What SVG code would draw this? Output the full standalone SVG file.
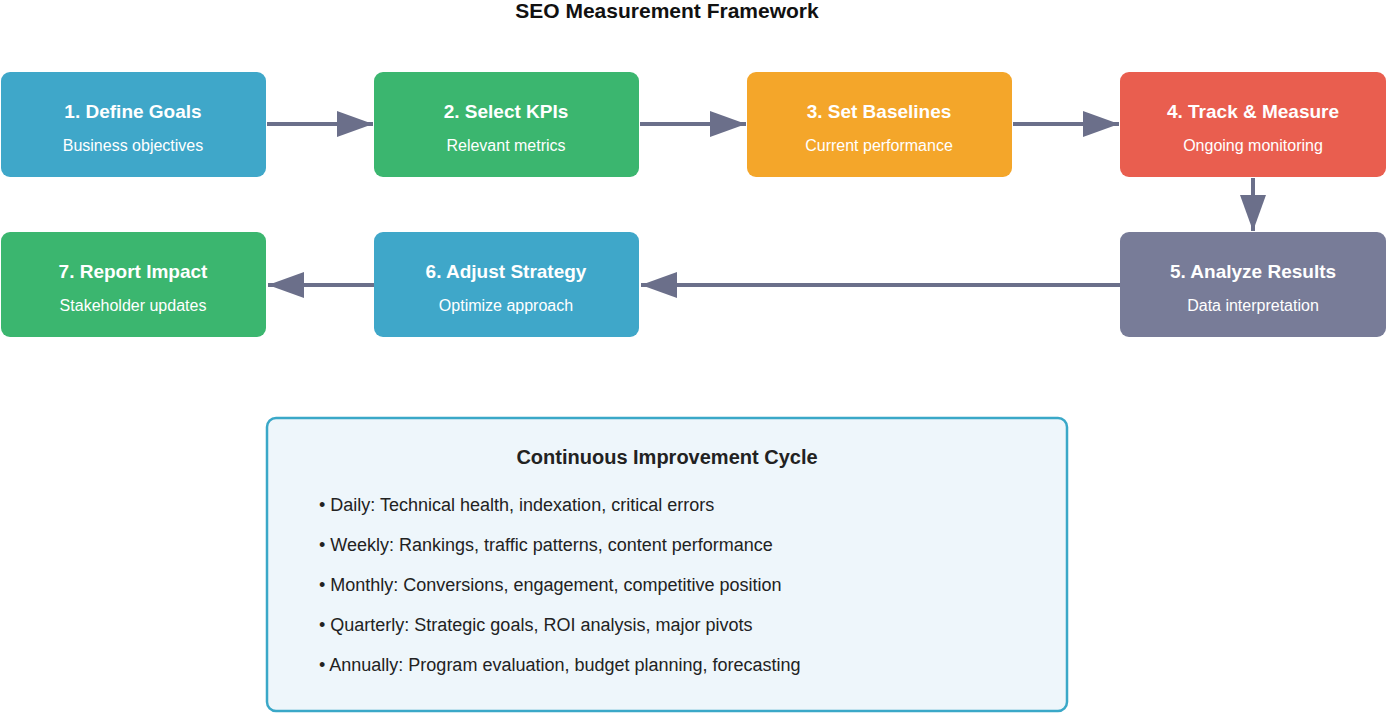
<svg xmlns="http://www.w3.org/2000/svg" width="1387" height="713" viewBox="0 0 1387 713">
<defs>
<marker id="ah" markerWidth="9" markerHeight="6.5" refX="9" refY="3.25" orient="auto" markerUnits="strokeWidth"><path d="M0,0 L9,3.25 L0,6.5 Z" fill="#6b6f8a"/></marker>
<style>
text{font-family:"Liberation Sans",Arial,sans-serif;}
.t{font-size:19px;font-weight:bold;fill:#fff;text-anchor:middle;}
.s{font-size:16px;fill:#fff;text-anchor:middle;}
.c{stroke:#6b6f8a;stroke-width:4;fill:none;marker-end:url(#ah);}
.b{font-size:18px;fill:#222;}
</style>
</defs>
<rect width="1387" height="713" fill="#fff"/>
<text x="667" y="18" font-size="21" font-weight="bold" fill="#111" text-anchor="middle">SEO Measurement Framework</text>
<g id="connectors">
<line class="c" x1="267" y1="124" x2="373" y2="124"/>
<line class="c" x1="640" y1="124" x2="746" y2="124"/>
<line class="c" x1="1013" y1="124" x2="1119" y2="124"/>
<line class="c" x1="1253" y1="178" x2="1253" y2="231"/>
<line class="c" x1="1120" y1="285" x2="641" y2="285"/>
<line class="c" x1="374" y1="285" x2="268" y2="285"/>
</g>
<g id="n1"><rect x="1" y="72" width="265" height="105" rx="9" fill="#3fa7c9"/><text class="t" x="133" y="118">1. Define Goals</text><text class="s" x="133" y="151">Business objectives</text></g>
<g id="n2"><rect x="374" y="72" width="265" height="105" rx="9" fill="#3bb66f"/><text class="t" x="506" y="118">2. Select KPIs</text><text class="s" x="506" y="151">Relevant metrics</text></g>
<g id="n3"><rect x="747" y="72" width="265" height="105" rx="9" fill="#f4a62a"/><text class="t" x="879" y="118">3. Set Baselines</text><text class="s" x="879" y="151">Current performance</text></g>
<g id="n4"><rect x="1120" y="72" width="266" height="105" rx="9" fill="#e95e4f"/><text class="t" x="1253" y="118">4. Track &amp; Measure</text><text class="s" x="1253" y="151">Ongoing monitoring</text></g>
<g id="n5"><rect x="1120" y="232" width="266" height="105" rx="9" fill="#787c98"/><text class="t" x="1253" y="278">5. Analyze Results</text><text class="s" x="1253" y="311">Data interpretation</text></g>
<g id="n6"><rect x="374" y="232" width="265" height="105" rx="9" fill="#3fa7c9"/><text class="t" x="506" y="278">6. Adjust Strategy</text><text class="s" x="506" y="311">Optimize approach</text></g>
<g id="n7"><rect x="1" y="232" width="265" height="105" rx="9" fill="#3bb66f"/><text class="t" x="133" y="278">7. Report Impact</text><text class="s" x="133" y="311">Stakeholder updates</text></g>
<g id="cycle">
<rect x="267" y="418" width="800" height="293" rx="9" fill="#eef6fb" stroke="#3aa8c8" stroke-width="2.5"/>
<text x="667" y="464" font-size="20" font-weight="bold" fill="#222" text-anchor="middle">Continuous Improvement Cycle</text>
<text class="b" x="319" y="511">• Daily: Technical health, indexation, critical errors</text>
<text class="b" x="319" y="551">• Weekly: Rankings, traffic patterns, content performance</text>
<text class="b" x="319" y="591">• Monthly: Conversions, engagement, competitive position</text>
<text class="b" x="319" y="631">• Quarterly: Strategic goals, ROI analysis, major pivots</text>
<text class="b" x="319" y="671">• Annually: Program evaluation, budget planning, forecasting</text>
</g>
</svg>
